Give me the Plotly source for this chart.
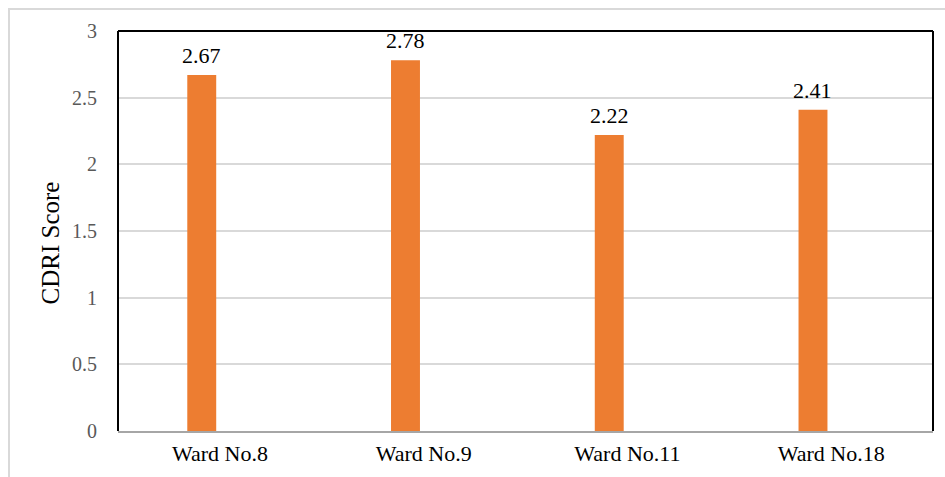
import plotly.graph_objects as go

# CDRI scores by ward
wards = ["Ward No.8", "Ward No.9", "Ward No.11", "Ward No.18"]
cdri_scores = [2.67, 2.78, 2.22, 2.41]
y_ticks = [0, 0.5, 1, 1.5, 2, 2.5, 3]
y_tick_text = ["0", "0.5", "1", "1.5", "2", "2.5", "3"]

SERIF = "Liberation Serif"
BAR_COLOR = "#ED7D31"
BAR_WIDTH = 0.142
BAR_OFFSET = -0.16

W, H = 945, 477
ML, MR, MT, MB = 118, 12, 31, 46
PW, PH = W - ML - MR, H - MT - MB

fig = go.Figure()
fig.add_trace(go.Bar(
    x=wards,
    y=cdri_scores,
    marker=dict(color=BAR_COLOR, line=dict(width=0)),
    width=BAR_WIDTH,
    offset=BAR_OFFSET,
    hoverinfo="x+y",
))

# value labels above each bar
for i, v in enumerate(cdri_scores):
    fig.add_annotation(
        x=i + BAR_OFFSET + BAR_WIDTH / 2, y=v, xref="x", yref="y",
        text=f"{v:.2f}", showarrow=False, yanchor="bottom", yshift=5,
        font=dict(family=SERIF, size=22, color="#000000"),
    )

# axis title
fig.add_annotation(
    x=(34 - ML) / PW, y=1 - (243 - MT) / PH, xref="paper", yref="paper",
    text="CDRI Score", textangle=-90, showarrow=False,
    font=dict(family=SERIF, size=25, color="#000000"),
)

def px_x(p):
    return (p - ML) / PW

def px_y(p):
    return 1 - (p - MT) / PH

# outer chart frame
fig.add_shape(type="rect", xref="paper", yref="paper",
              x0=px_x(9), x1=px_x(960), y0=px_y(9), y1=px_y(490),
              line=dict(color="#D9D9D9", width=2), layer="below")

# plot-area frame: left, top, right in black
for x0, y0, x1, y1 in [(0, 0, 0, 1), (0, 1, 1, 1), (1, 0, 1, 1)]:
    fig.add_shape(type="line", xref="paper", yref="paper",
                  x0=x0, y0=y0, x1=x1, y1=y1,
                  line=dict(color="#000000", width=2))

fig.update_layout(
    width=W, height=H,
    margin=dict(l=ML, r=MR, t=MT, b=MB, autoexpand=False),
    paper_bgcolor="#FFFFFF", plot_bgcolor="#FFFFFF",
    showlegend=False,
    xaxis=dict(
        type="category", showgrid=False, showline=True, automargin=False,
        linecolor="#A6A6A6", linewidth=1.5, ticks="",
        tickfont=dict(family=SERIF, size=22, color="#000000"),
        ticklabelstandoff=2, zeroline=False,
    ),
    yaxis=dict(
        range=[0, 3], tickvals=y_ticks, ticktext=y_tick_text, automargin=False,
        showgrid=True, gridcolor="#D9D9D9", gridwidth=1.5,
        showline=False, zeroline=False, ticks="",
        tickfont=dict(family=SERIF, size=20, color="#595959"),
        ticklabelstandoff=20,
    ),
)

fig.write_html("out.html")
